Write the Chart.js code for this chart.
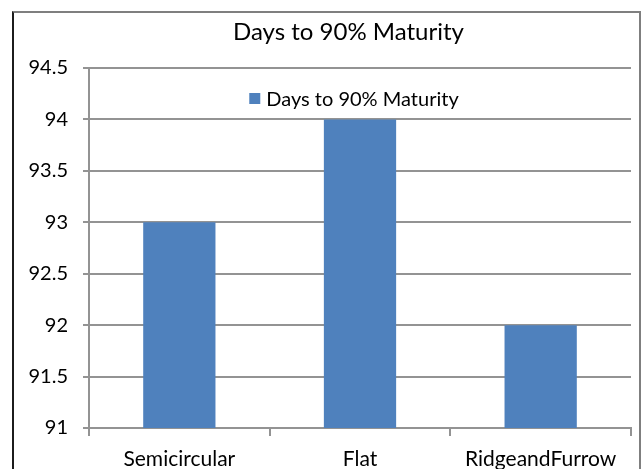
<!DOCTYPE html>
<html>
<head>
<meta charset="utf-8">
<script src="https://cdn.jsdelivr.net/npm/chart.js@4/dist/chart.umd.min.js"></script>
<style>
  html, body { margin: 0; padding: 0; background: #ffffff; overflow: hidden; }
  #wrap { position: relative; width: 642px; height: 469px; overflow: hidden; }
  #frame {
    position: absolute; left: 12px; top: 11px; width: 629px; height: 500px;
    box-sizing: border-box;
    border-left: 2px solid #1c1c1c;
    border-top: 2px solid #7f7f7f;
    border-right: 2px solid #7f7f7f;
  }
  #c { position: absolute; left: 0; top: 0; }
</style>
</head>
<body>
<div id="wrap">
  <div id="frame"></div>
  <canvas id="c" width="642" height="480"></canvas>
</div>
<script>
// Days needed to reach 90% maturity for each bed shape
const categories = ['Semicircular', 'Flat', 'RidgeandFurrow'];
const daysToMaturity = [93, 94, 92];
const seriesName = 'Days to 90% Maturity';
const chartTitle = 'Days to 90% Maturity';
const yMin = 91;
const yMax = 94.5;
const yStep = 0.5;

const FONT = 'Lato, "Liberation Sans", sans-serif';
const BAR_BLUE = '#4F81BD';
const GRID_GREY = '#939393';

// Title is centred between the value labels' left edge and the plot's right edge
const titleSpan = {
  id: 'titleSpan',
  afterLayout(chart, args, opts) {
    const t = chart.titleBlock;
    if (t) { t.left = opts.left; }
  }
};

// Legend item drawn inside the plot area, under the title
const insideLegend = {
  id: 'insideLegend',
  afterDatasetsDraw(chart, args, opts) {
    const ds = chart.data.datasets[0];
    const ctx = chart.ctx;
    ctx.save();
    ctx.font = opts.size + 'px ' + FONT;
    const tw = ctx.measureText(ds.label).width;
    const total = opts.box + opts.gap + tw;
    const { left, right, top } = chart.chartArea;
    const x0 = (left + right) / 2 + opts.dx - total / 2;
    const y = top + opts.dy;
    ctx.fillStyle = ds.backgroundColor;
    ctx.fillRect(x0, y - opts.box / 2, opts.box, opts.box);
    ctx.fillStyle = opts.color;
    ctx.textAlign = 'left';
    ctx.textBaseline = 'middle';
    ctx.fillText(ds.label, x0 + opts.box + opts.gap, y + 1);
    ctx.restore();
  }
};

new Chart(document.getElementById('c'), {
  type: 'bar',
  data: {
    labels: categories,
    datasets: [{
      label: seriesName,
      data: daysToMaturity,
      backgroundColor: BAR_BLUE,
      borderWidth: 0,
      barPercentage: 0.4,
      categoryPercentage: 1.0
    }]
  },
  options: {
    responsive: false,
    animation: false,
    devicePixelRatio: 1,
    layout: { padding: { left: 0, right: 11, top: 0, bottom: 0 } },
    plugins: {
      legend: { display: false },
      tooltip: { enabled: false },
      title: {
        display: true,
        text: chartTitle,
        color: '#000000',
        font: { family: FONT, size: 24, weight: 'normal' },
        padding: { top: 18, bottom: 21.2 }
      },
      titleSpan: { left: 66 },
      insideLegend: { size: 20, box: 11, gap: 6, dx: -6, dy: 30.5, color: '#000000' }
    },
    scales: {
      x: {
        grid: {
          offset: true,
          drawOnChartArea: false,
          drawTicks: true,
          tickLength: 8,
          color: GRID_GREY,
          lineWidth: 2
        },
        border: { display: true, color: GRID_GREY, width: 2 },
        ticks: {
          color: '#000000',
          font: { family: FONT, size: 21 },
          padding: 11,
          maxRotation: 0,
          autoSkip: false
        },
        afterFit: (scale) => { scale.height = 52; }
      },
      y: {
        min: yMin,
        max: yMax,
        ticks: {
          stepSize: yStep,
          color: '#000000',
          font: { family: FONT, size: 20 },
          padding: 15,
          // plain numbers: "94", "93.5"
          callback: (value) => String(Number(value))
        },
        grid: {
          color: GRID_GREY,
          lineWidth: 2,
          tickLength: 6,
          drawTicks: true
        },
        border: { display: true, color: GRID_GREY, width: 2 },
        afterFit: (scale) => { scale.width = 89; }
      }
    }
  },
  plugins: [titleSpan, insideLegend]
});
</script>
</body>
</html>
